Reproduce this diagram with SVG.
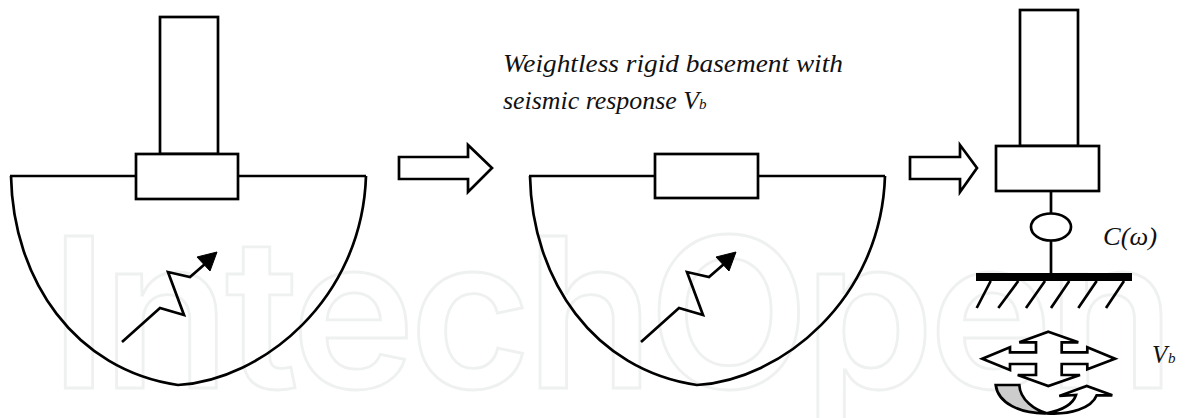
<svg xmlns="http://www.w3.org/2000/svg" width="1188" height="418" viewBox="0 0 1188 418">
<style>
.s{fill:#fff;stroke:#000;stroke-width:2.7}
.l{fill:none;stroke:#000;stroke-width:2.7;stroke-linejoin:miter}
.t{font-family:"Liberation Serif",serif;font-style:italic;font-size:25px;fill:#111}
.u{font-size:15px}
.w{font-family:Inter,Lato,"Noto Sans",sans-serif;font-size:209px;font-weight:600;fill:none;stroke:#eff1f1;stroke-width:2.8}
</style>
<defs>
<g id="soil">
<path class="l" d="M10,176H366M11,176C13,280 75,370 178,385C262,380 362,300 366,176"/>
<path class="l" d="M122,342L160,308L184,315L168,272L190,277L205,264"/>
<path d="M217,252L197,257L210,271Z" fill="#000" stroke="#000"/>
</g>
<path id="big" class="s" d="M0,12H69V0L93,23L69,47V34H0Z"/>
</defs>
<rect width="1188" height="418" fill="#fff"/>
<text class="w" x="50" y="388" textLength="1125" lengthAdjust="spacing">IntechOpen</text>
<g id="model-left">
<use href="#soil"/>
<rect class="s" x="160" y="17" width="58" height="137"/>
<rect class="s" x="136" y="154" width="102" height="45"/>
</g>
<g id="model-middle">
<use href="#soil" x="519"/>
<rect class="s" x="655" y="154" width="103" height="44"/>
</g>
<g id="model-right">
<rect class="s" x="1020" y="10" width="58" height="136"/>
<rect class="s" x="996" y="146" width="103" height="45"/>
<ellipse class="s" cx="1051" cy="227" rx="20" ry="13.5"/>
<rect x="976" y="273" width="156" height="8" fill="#000"/>
<path class="l" d="M990.7,281L976.7,308M1018.3,281L998.3,308M1045,281L1026,308M1069.3,281L1051,308M1096.7,281L1078.3,308M1124,281L1106,308"/>
</g>
<g id="motion">
<path class="s" d="M1048.3,331.7L1078.3,342.3H1061.7V352.3H1087.3V347.3L1115,358.7L1087.3,369.3V364H1061.7V375H1080L1048.3,386L1017.7,375H1036V364H1010V370L982.3,358.7L1010,347.3V352.3H1036V342.3H1019.3Z"/>
<path d="M995.7,385H1019.3C1020,400 1035,410 1046.7,413.3C1020,414 998,403 995.7,385Z" fill="#ccc" stroke="#000" stroke-width="2.7"/>
<path class="s" d="M1046.7,413.3C1063.3,410 1073.3,403.3 1076,395L1059.3,396L1086.7,386L1112.3,395.3H1096.7C1091.7,408.3 1070,415 1046.7,413.3Z"/>
</g>
<g id="connectors">
<use href="#big" x="399" y="145"/>
<path class="s" d="M910,157H960V145L977,168L960,192V179H910Z"/>
<path class="l" d="M1051,191V213.500M1051,240.500V273"/>
</g>
<g id="labels">
<text class="t" x="503" y="72" textLength="340" lengthAdjust="spacingAndGlyphs">Weightless rigid basement with</text>
<text class="t" x="503" y="109" textLength="196" lengthAdjust="spacingAndGlyphs">seismic response V</text>
<text class="t u" x="699" y="109">b</text>
<text class="t" x="1103" y="245" textLength="54" lengthAdjust="spacingAndGlyphs">C(ω)</text>
<text class="t" x="1152" y="363">V</text>
<text class="t u" x="1168" y="363">b</text>
</g>
</svg>
